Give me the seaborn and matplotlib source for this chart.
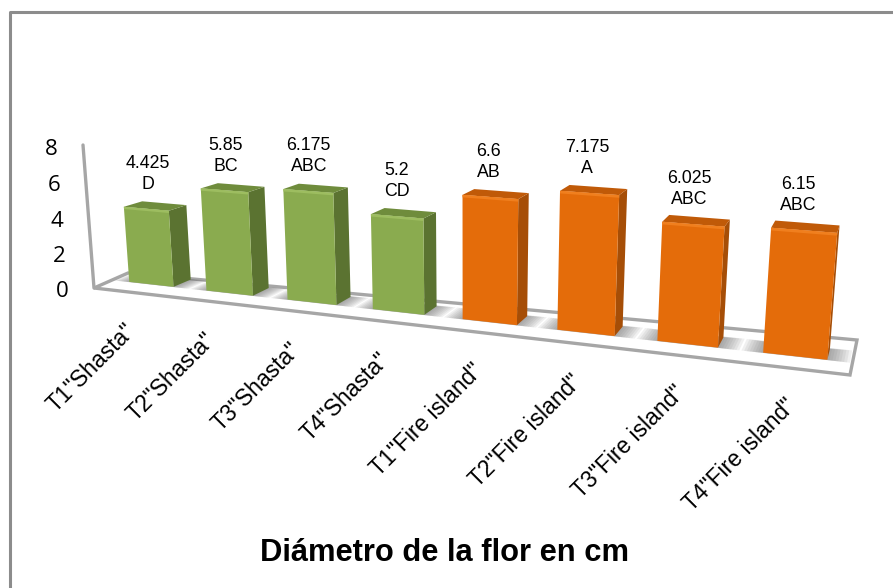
import numpy as np
import pandas as pd
import matplotlib
matplotlib.use("Agg")
import matplotlib.pyplot as plt
from matplotlib.patches import Polygon, Rectangle
from matplotlib.transforms import IdentityTransform, Transform
import seaborn as sns

categories = ['T1"Shasta"', 'T2"Shasta"', 'T3"Shasta"', 'T4"Shasta"',
              'T1"Fire island"', 'T2"Fire island"', 'T3"Fire island"', 'T4"Fire island"']
values = [4.425, 5.85, 6.175, 5.2, 6.6, 7.175, 6.025, 6.15]
value_labels = ["4.425", "5.85", "6.175", "5.2", "6.6", "7.175", "6.025", "6.15"]
letters = ["D", "BC", "ABC", "CD", "AB", "A", "ABC", "ABC"]
groups = ["Shasta"] * 4 + ["Fire island"] * 4
y_ticks = [0, 2, 4, 6, 8]
title = "Diámetro de la flor en cm"

W, H = 893, 588
BAR_WIDTH = 0.58

FACE = {"Shasta": "#8aab4f", "Fire island": "#e46c0a"}
TOP = {"Shasta": "#6f8c3c", "Fire island": "#c05a08"}
SIDE = {"Shasta": "#5b7331", "Fire island": "#a64e07"}
RIM = {"Shasta": "#9dbd60", "Fire island": "#f07f1e"}

# Camera calibration: (category position, value, depth) against canvas pixels.
CALIBRATION = [
    (-.29, 0, 0, 130, 283), (.29, 0, 0, 173, 287), (-.29, 4.425, 0, 124, 207),
    (.29, 4.425, 0, 168, 210), (.29, 4.425, 1, 187, 205), (.29, 0, 1, 190, 283),
    (2.71, 0, 0, 374, 308), (3.29, 0, 0, 423, 313), (2.71, 5.2, 0, 372, 213),
    (3.29, 5.2, 0, 422, 216), (3.29, 5.2, 1, 437, 211), (3.29, 0, 1, 437, 305),
    (4.71, 0, 0, 558, 331), (5.29, 0, 0, 614, 336), (4.71, 7.175, 0, 561, 192),
    (5.29, 7.175, 0, 618, 196), (5.29, 7.175, 1, 626, 188), (5.29, 0, 1, 622, 325),
    (6.71, 0, 0, 764, 353), (7.29, 0, 0, 827, 359), (6.71, 6.15, 0, 772, 230),
    (7.29, 6.15, 0, 837, 234), (7.29, 6.15, 1, 840, 226), (7.29, 0, 1, 830, 350),
]


def fit_camera(rows):
    A = []
    for x, y, z, u, v in rows:
        p = [x, y, z, 1.0]
        A.append(p + [0, 0, 0, 0] + [-u * c for c in p])
        A.append([0, 0, 0, 0] + p + [-v * c for c in p])
    return np.linalg.svd(np.array(A))[2][-1].reshape(3, 4)


CAMERA = fit_camera(CALIBRATION)


def project(x, y, z=0.0):
    """Perspective projection into canvas pixels (origin at the top left)."""
    q = CAMERA @ np.array([x, y, z, 1.0])
    return q[0] / q[2], q[1] / q[2]


def to_display(pts):
    return [(u, H - v) for u, v in pts]


class FrontPlane(Transform):
    """Maps (category position, value) on the bars' front plane to display pixels."""
    input_dims = output_dims = 2
    is_affine = False

    def transform_non_affine(self, values):
        pts = np.asarray(values, dtype=float)
        homog = np.column_stack([pts[:, 0], pts[:, 1], np.zeros(len(pts)), np.ones(len(pts))])
        q = homog @ CAMERA.T
        return np.column_stack([q[:, 0] / q[:, 2], H - q[:, 1] / q[:, 2]])


sns.set_theme(style="white")
fig = plt.figure(figsize=(W / 100, H / 100), dpi=100, facecolor="white")
ax = fig.add_axes([0, 0, 1, 1])

table = pd.DataFrame({"tratamiento": categories, "diametro": values, "grupo": groups})
sns.barplot(data=table, x="tratamiento", y="diametro", hue="grupo", palette=FACE, saturation=1,
            dodge=False, width=BAR_WIDTH, legend=False, ax=ax, zorder=5)
ax.set_xlim(0, 1)
ax.set_ylim(0, 1)
ax.set_axis_off()

identity = IdentityTransform()


def poly(pts, zorder=3, **kw):
    kw.setdefault("linewidth", 0)
    patch = Polygon(to_display(pts), closed=True, transform=identity, zorder=zorder, **kw)
    patch.set_clip_on(False)
    ax.add_patch(patch)
    return patch


# Chart frame: top and left edges only
FRAME = "#8c8c8c"
fig.add_artist(plt.Line2D([9.5 / W, 9.5 / W, 1.0],
                          [0, 1 - 12 / H, 1 - 12 / H],
                          color=FRAME, linewidth=2.2, transform=fig.transFigure))

# Floor and value-axis wall edge
floor = poly([(94, 288), (128, 273), (857, 340), (850, 375)], zorder=1,
             facecolor="white", edgecolor="#a6a6a6", linewidth=2.4)
ax.plot([83, 94], [H - 145, H - 288], color="#a6a6a6", lw=2.4, transform=identity,
        clip_on=False, zorder=1)

# Three-dimensional columns: seaborn's bars become the front faces
bars = [p for p in ax.patches if isinstance(p, Rectangle) and p.get_width() > 0 and p.get_height() > 0]
bars.sort(key=lambda p: p.get_x())
front = FrontPlane()
for bar, group, value in zip(bars, groups, values):
    x0, x1 = bar.get_x(), bar.get_x() + bar.get_width()
    h = bar.get_height()
    bar.set_transform(front)
    bar.set_clip_on(False)
    bar.set_linewidth(0)

    # soft floor shadow in growing translucent rings, kept on the floor
    for spread in np.linspace(0.20, 0.02, 8):
        ring = poly([project(x0 - spread, 0, -spread * 0.15), project(x1 + spread, 0, -spread * 0.15),
                     project(x1 + spread, 0, 1 + spread * 0.5), project(x0 - spread, 0, 1 + spread * 0.5)],
                    zorder=2, facecolor="#6f6f6f", alpha=0.10)
        ring.set_clip_on(True)
        ring.set_clip_path(floor)

    poly([project(x1, 0), project(x1, 0, 1), project(x1, h, 1), project(x1, h)],
         zorder=4, facecolor=SIDE[group])
    poly([project(x0, h), project(x1, h), project(x1, h, 1), project(x0, h, 1)],
         zorder=4, facecolor=TOP[group])
    poly([project(x0, h), project(x1, h), project(x1, h - 0.13), project(x0, h - 0.13)],
         zorder=6, facecolor=RIM[group])

# Value labels sit above each column
for i, (value, label, letter) in enumerate(zip(values, value_labels, letters)):
    u, v = project(i, value, 0.5)
    ax.text(u - 7, H - (v - 32), f"{label}\n{letter}", transform=identity, ha="center", va="center",
            family="Liberation Sans", fontsize=12.8, color="black", linespacing=1.3, zorder=8)

# Value axis labels
for tick in y_ticks:
    u, v = project(-0.29, tick, 0)
    ax.text(u - 67 - tick * 0.1, H - (v + 10 - 0.65 * tick), str(tick), transform=identity, ha="center", va="center",
            family="Open Sans", fontsize=16, color="black", zorder=8)

# Category labels
for i, name in enumerate(categories):
    u, v = project(i, 0, 0)
    ax.text(u - 28 + 2.4 * i, H - (v + 35 + 0.4 * i), name, transform=identity, ha="right", va="top",
            rotation=45, rotation_mode="anchor", family="Liberation Sans", fontsize=16.5,
            color="black", zorder=8)

ax.text(444, H - 553, title, transform=identity, ha="center", va="center",
        family="Liberation Sans", fontweight="bold", fontsize=22.2, color="black", zorder=8)

fig.savefig("out.png", dpi=100)
